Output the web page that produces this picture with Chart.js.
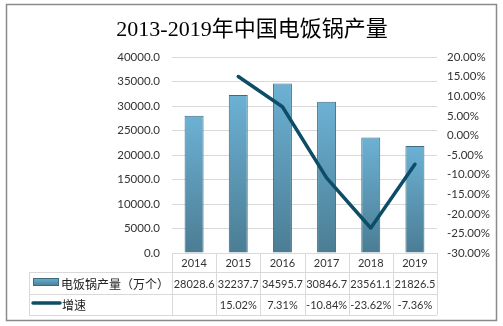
<!DOCTYPE html>
<html>
<head>
<meta charset="utf-8">
<script src="https://cdn.jsdelivr.net/npm/chart.js@4"></script>
<style>
html, body { margin: 0; padding: 0; background: #fff; }
#wrap { position: relative; width: 503px; height: 326px; }
</style>
</head>
<body>
<div id="wrap"><canvas id="c" width="503" height="326"></canvas></div>
<script>
const TITLE = "2013-2019年中国电饭锅产量";
const YEARS = ["2014", "2015", "2016", "2017", "2018", "2019"];
const OUTPUT = [28028.6, 32237.7, 34595.7, 30846.7, 23561.1, 21826.5];
const GROWTH = [null, 15.02, 7.31, -10.84, -23.62, -7.36];
const OUTPUT_NAME = "电饭锅产量（万个）";
const GROWTH_NAME = "增速";

const COLORS = {
    barTop: "#6cb1d4",
    barBottom: "#4b7d94",
    barBorder: "#3d6b80",
    line: "#0e4d66",
    grid: "#d9d9d9",
    text: "#333333",
    frame: "#8a8a8a",
};

const NUM_FONT = "11px Lato, 'Noto Sans CJK SC', sans-serif";
const CJK_FONT = "12px 'Noto Sans CJK SC', sans-serif";

function barGradient(ctx, top, bottom) {
    const g = ctx.createLinearGradient(0, top, 0, bottom);
    g.addColorStop(0, COLORS.barTop);
    g.addColorStop(1, COLORS.barBottom);
    return g;
}

function hline(ctx, x1, x2, y) {
    ctx.beginPath();
    ctx.moveTo(x1, Math.round(y) + 0.5);
    ctx.lineTo(x2, Math.round(y) + 0.5);
    ctx.stroke();
}

function vline(ctx, x, y1, y2) {
    ctx.beginPath();
    ctx.moveTo(Math.round(x) + 0.5, y1);
    ctx.lineTo(Math.round(x) + 0.5, y2);
    ctx.stroke();
}

// title, frame and the data table under the plot
const tablePlugin = {
    id: "dataTable",
    afterDraw(chart) {
        const { ctx, chartArea: a } = chart;
        const step = (a.right - a.left) / YEARS.length;
        const left = 29, r1 = 272, r2 = 294, r3 = 315;
        ctx.save();

        ctx.fillStyle = "#000";
        ctx.font = "22px 'Liberation Serif', 'Noto Sans CJK SC', serif";
        ctx.textAlign = "center";
        ctx.textBaseline = "middle";
        ctx.fillText(TITLE, 252, 30);

        ctx.strokeStyle = COLORS.grid;
        ctx.lineWidth = 1;
        hline(ctx, left, a.right, r1);
        hline(ctx, left, a.right, r2);
        hline(ctx, left, a.right, r3);
        vline(ctx, left, r1, r3);
        for (let i = 0; i <= YEARS.length; i++) {
            vline(ctx, a.left + i * step, a.bottom, r3);
        }

        ctx.fillStyle = COLORS.text;
        ctx.font = NUM_FONT;
        YEARS.forEach((yr, i) => {
            const cx = a.left + (i + 0.5) * step;
            ctx.fillText(yr, cx, (a.bottom + r1) / 2 + 1);
            ctx.fillText(OUTPUT[i].toFixed(1), cx, (r1 + r2) / 2 + 1);
            if (GROWTH[i] != null) ctx.fillText(GROWTH[i].toFixed(2) + "%", cx, (r2 + r3) / 2 + 1);
        });

        // legend keys
        ctx.fillStyle = barGradient(ctx, 278, 286);
        ctx.fillRect(33, 278, 25, 8);
        ctx.strokeStyle = COLORS.barBorder;
        ctx.strokeRect(33.5, 278.5, 25, 7);
        ctx.strokeStyle = COLORS.line;
        ctx.lineWidth = 3.5;
        ctx.lineCap = "round";
        ctx.beginPath();
        ctx.moveTo(33, 303);
        ctx.lineTo(60, 303);
        ctx.stroke();

        ctx.fillStyle = "#222";
        ctx.font = CJK_FONT;
        ctx.textAlign = "left";
        ctx.fillText(OUTPUT_NAME, 61, (r1 + r2) / 2 + 1);
        ctx.fillText(GROWTH_NAME, 62, (r2 + r3) / 2 + 1);

        ctx.strokeStyle = COLORS.frame;
        ctx.lineWidth = 1.5;
        ctx.strokeRect(6.5, 4.5, 490, 316);
        ctx.restore();
    },
};

new Chart(document.getElementById("c"), {
    data: {
        labels: YEARS,
        datasets: [
            {
                type: "line",
                label: GROWTH_NAME,
                data: GROWTH,
                yAxisID: "y1",
                borderColor: COLORS.line,
                borderWidth: 3.5,
                pointRadius: 0,
                tension: 0,
                borderJoinStyle: "round",
                borderCapStyle: "round",
                spanGaps: false,
                order: 0,
            },
            {
                type: "bar",
                label: OUTPUT_NAME,
                data: OUTPUT,
                yAxisID: "y",
                backgroundColor: c => {
                    const a = c.chart.chartArea;
                    if (!a || c.raw == null) return COLORS.barTop;
                    return barGradient(c.chart.ctx, c.chart.scales.y.getPixelForValue(c.raw), a.bottom);
                },
                borderColor: COLORS.barBorder,
                borderWidth: 1,
                barPercentage: 0.43,
                categoryPercentage: 1,
                order: 1,
            },
        ],
    },
    options: {
        responsive: false,
        animation: false,
        layout: { padding: { top: 57, bottom: 73, left: 0, right: 0 } },
        plugins: {
            legend: { display: false },
            title: { display: false },
            tooltip: { enabled: false },
        },
        scales: {
            x: { display: false, offset: true, grid: { display: false } },
            y: {
                position: "left",
                min: 0,
                max: 40000,
                afterFit: s => { s.width = 172; },
                ticks: {
                    stepSize: 5000,
                    padding: 12,
                    color: COLORS.text,
                    font: { family: "Lato", size: 11.5 },
                    callback: v => v.toFixed(1),
                },
                grid: { color: COLORS.grid, drawTicks: false },
                border: { display: false },
            },
            y1: {
                position: "right",
                min: -30,
                max: 20,
                afterFit: s => { s.width = 66; },
                ticks: {
                    stepSize: 5,
                    padding: 10,
                    color: COLORS.text,
                    font: { family: "Lato", size: 11.5 },
                    callback: v => v.toFixed(2) + "%",
                },
                grid: { display: false, drawTicks: false },
                border: { display: false },
            },
        },
    },
    plugins: [tablePlugin],
});
</script>
</body>
</html>
